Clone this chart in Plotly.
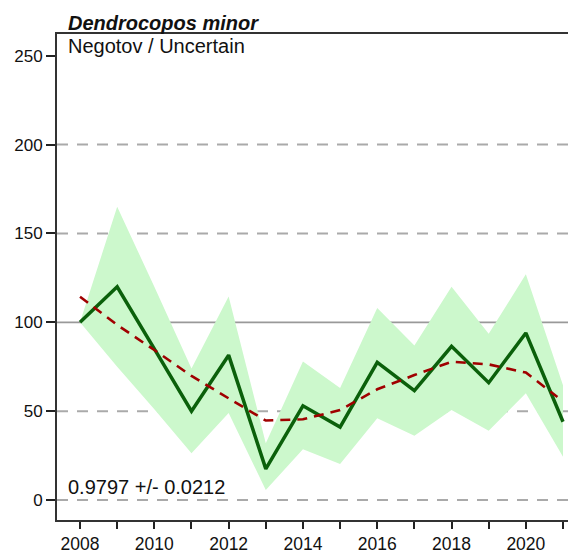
import plotly.graph_objects as go

years = list(range(2008, 2022))
index_vals = [100, 120, 85, 50, 81.5, 17.5, 53, 41, 77.5, 61.5, 86.5, 66, 94, 44]
upper_vals = [100, 165, 120, 74, 114.5, 32, 78, 63, 108, 87, 120, 93.5, 127, 64.5]
lower_vals = [100, 75, 51, 26.3, 49, 5.6, 28.5, 20.3, 46, 36.2, 50.6, 39, 60, 24.4]
trend_vals = [114.4, 98.5, 84.4, 69.8, 57.2, 44.7, 45.4, 50.6, 62.3, 70.3, 77.8, 76.3, 71.7, 58]
ytick_vals = [0, 50, 100, 150, 200, 250]
xtick_labels = [str(y) if y % 2 == 0 else "" for y in years]
title_text = "Dendrocopos minor"
subtitle_text = "Negotov / Uncertain"
slope_text = "0.9797 +/- 0.0212"

fig = go.Figure()
fig.add_trace(go.Scatter(x=years, y=upper_vals, mode="lines", line=dict(width=0),
                         showlegend=False, hoverinfo="skip"))
fig.add_trace(go.Scatter(x=years, y=lower_vals, mode="lines", line=dict(width=0),
                         fill="tonexty", fillcolor="rgb(204,248,204)",
                         showlegend=False, hoverinfo="skip"))
fig.add_trace(go.Scatter(x=years, y=index_vals, mode="lines",
                         line=dict(color="#0b600b", width=3.5), showlegend=False))
fig.add_trace(go.Scatter(x=years[:-1] + [2020.85], y=trend_vals, mode="lines",
                         line=dict(color="#a00000", width=2.6, dash="10px,7px"), showlegend=False))

for v in [0, 50, 150, 200]:
    fig.add_hline(y=v, line=dict(color="#aaaaaa", width=2, dash="11px,9px"), layer="below")
fig.add_hline(y=100, line=dict(color="#999999", width=1.8), layer="below")

font = "Liberation Sans, Arial, sans-serif"
fig.update_layout(
    width=568, height=545,
    margin=dict(l=49, r=0, t=26, b=33),
    plot_bgcolor="white", paper_bgcolor="white",
    font=dict(family=font, size=17, color="#111"),
    xaxis=dict(range=[2007.38, 2021.35], tickvals=years, ticktext=xtick_labels,
               ticks="outside", ticklen=7, tickwidth=2, tickcolor="#222",
               showline=True, linecolor="#333", linewidth=2, mirror=True,
               showgrid=False, zeroline=False, tickfont=dict(size=17.5),
               automargin=False),
    yaxis=dict(range=[-11.25, 262.2], tickvals=ytick_vals,
               ticks="outside", ticklen=9, tickwidth=2, tickcolor="#222",
               showline=True, linecolor="#333", linewidth=2,
               showgrid=False, zeroline=False, tickfont=dict(size=17),
               automargin=False),
    annotations=[
        dict(text="<b><i>" + title_text + "</i></b>", xref="paper", yref="paper",
             x=0.018, y=1.0, xanchor="left", yanchor="bottom", showarrow=False,
             font=dict(size=20), yshift=-2),
        dict(text=subtitle_text, xref="paper", yref="paper",
             x=0.018, y=1.0, xanchor="left", yanchor="top", showarrow=False,
             font=dict(size=20), yshift=1),
        dict(text=slope_text, xref="paper", yref="y",
             x=0.018, y=2, xanchor="left", yanchor="bottom", showarrow=False,
             font=dict(size=20), yshift=-4),
    ],
)
fig.write_html("out.html")
